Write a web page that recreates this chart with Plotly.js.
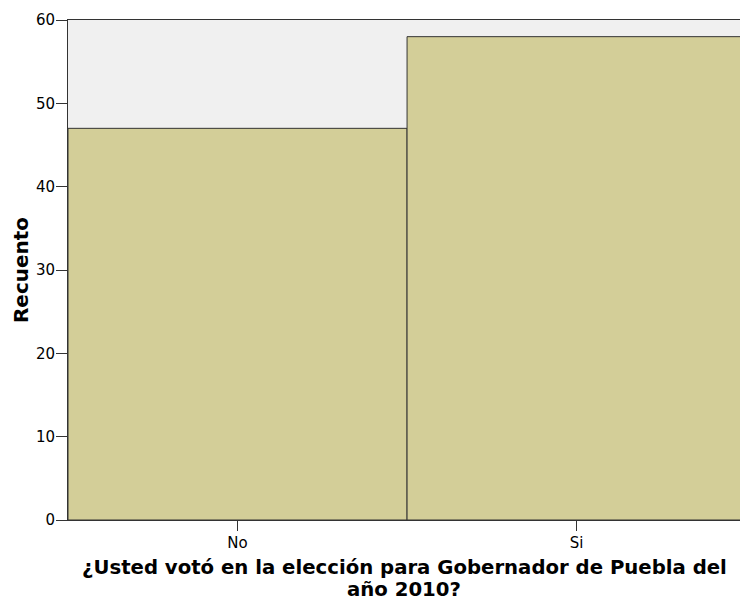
<!DOCTYPE html>
<html>
<head>
<meta charset="utf-8">
<script src="https://cdn.plot.ly/plotly-3.0.1.min.js"></script>
<style>html,body{margin:0;padding:0;background:#fff;overflow:hidden}#chart{width:740px;height:601px}</style>
</head>
<body>
<div id="chart"></div>
<script>
const categories = ["No", "Si"];
const counts = [47, 58];
const yTicks = [0, 10, 20, 30, 40, 50, 60];
const xTitleLines = ["¿Usted votó en la elección para Gobernador de Puebla del", "año 2010?"];
const yTitle = "Recuento";

const trace = {
  type: "bar",
  x: categories,
  y: counts,
  width: 1,
  marker: { color: "#D3CE98", line: { color: "#333333", width: 1 } },
  hoverinfo: "none"
};

const titleFont = { size: 20, family: "DejaVu Sans, Verdana, sans-serif", weight: "bold", color: "#000" };
const xTitleFont = { size: 19.7, family: "DejaVu Sans, Verdana, sans-serif", weight: "bold", color: "#000" };
const tickFont = { size: 15, family: "DejaVu Sans, Verdana, sans-serif", color: "#000" };

const layout = {
  width: 740, height: 601,
  margin: { l: 68, r: 0, t: 20, b: 81 },
  paper_bgcolor: "#ffffff",
  plot_bgcolor: "#F0F0F0",
  bargap: 0,
  showlegend: false,
  font: { family: "DejaVu Sans, Verdana, sans-serif", color: "#000" },
  xaxis: {
    type: "category",
    range: [-0.5, 1.482],
    showline: true, mirror: true, linecolor: "#333333", linewidth: 1,
    ticks: "outside", ticklen: 10, tickcolor: "#333333",
    ticklabelstandoff: -1,
    tickfont: tickFont,
    showgrid: false, zeroline: false,
    fixedrange: true
  },
  yaxis: {
    range: [0, 60],
    tickvals: yTicks,
    showline: true, mirror: false, linecolor: "#333333", linewidth: 1,
    ticks: "outside", ticklen: 11, tickcolor: "#333333",
    ticklabelstandoff: -2,
    tickfont: tickFont,
    showgrid: false, zeroline: false,
    title: { text: yTitle, font: titleFont, standoff: 1 },
    fixedrange: true
  },
  annotations: xTitleLines.map((t, i) => ({
    text: t, xref: "paper", yref: "paper", x: 0.5, y: 0,
    xanchor: "center", yanchor: "middle", yshift: -47 - 22 * i,
    borderpad: 0,
    showarrow: false, font: xTitleFont
  }))
};

Plotly.newPlot("chart", [trace], layout, { displayModeBar: false, staticPlot: true });
</script>
</body>
</html>
